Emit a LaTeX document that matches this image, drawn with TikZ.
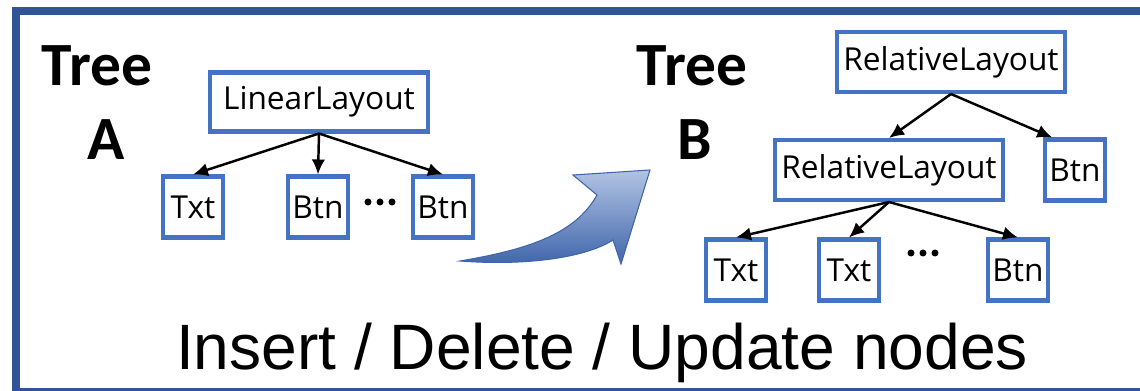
\documentclass[tikz,border=0pt]{standalone}
\usepackage{fontspec}
\setmainfont{Open Sans}
\newfontfamily\treefont{Carlito}
\newfontfamily\opfont{Liberation Sans}
\usepackage{tikz}
\usetikzlibrary{arrows.meta,positioning}
\definecolor{frameblue}{RGB}{47,85,151}
\definecolor{boxblue}{RGB}{68,114,196}
\definecolor{arrowlight}{RGB}{178,196,228}
\definecolor{arrowdark}{RGB}{62,100,170}

\begin{document}
\begin{tikzpicture}[x=0.02cm, y=-0.02cm, every node/.style={font=\fontsize{18}{20}\selectfont, inner sep=0pt}]
    \tikzset{
      layoutbox/.style={draw=boxblue, line width=2.3pt, minimum height=1.18cm},
      leafbox/.style={draw=boxblue, line width=2.3pt, minimum width=1.2cm, minimum height=1.22cm},
      treelabel/.style={font=\treefont\bfseries\fontsize{35}{40}\selectfont, anchor=base},
      link/.style={-{Latex[length=3mm,width=2.7mm]}, line width=1.4pt}
    }
    \useasboundingbox (0,0) rectangle (1140,391);
    \clip (0,0) rectangle (1140,391);
    % frame
    \draw[frameblue, line width=0.16cm] (16,11) rectangle (1146,392);
    % tree A
    \node[treelabel] (treeA) at (97,86) {Tree};
    \node[treelabel] (nameA) at (106,160) {A};
    \node[layoutbox, minimum width=4.36cm] (linear) at (319,102) {LinearLayout};
    \node[leafbox] (txtA) at (193,207) {Txt};
    \node[leafbox] (btnA) at (318,207) {Btn};
    \node[leafbox] (btnAA) at (443,207) {Btn};
    \foreach \x in {368,380,392} \fill (\x,202) circle[radius=0.07cm];
    \draw[link] (linear.south) -- (txtA.north);
    \draw[link] (linear.south) -- (btnA.north);
    \draw[link] (linear.south) -- (btnAA.north);
    % arrow between the trees
    \path[top color=arrowlight, bottom color=arrowdark, draw=arrowdark, line width=0.6pt]
      (460,261) .. controls (525,250) and (575,235) .. (597,195) -- (573,175) -- (650,170)
      -- (621,264) -- (613,240) .. controls (585,258) and (525,266) .. cycle;
    % tree B
    \node[treelabel] (treeB) at (692,86) {Tree};
    \node[treelabel] (nameB) at (695,160) {B};
    \node[layoutbox, minimum width=4.56cm, minimum height=1.2cm] (relTop) at (951,62) {RelativeLayout};
    \node[layoutbox, minimum width=4.56cm, minimum height=1.2cm] (relMid) at (889,170) {RelativeLayout};
    \node[leafbox] (btnB) at (1075,170) {Btn};
    \node[leafbox] (txtB) at (736,270) {Txt};
    \node[leafbox] (txtBB) at (849,270) {Txt};
    \node[leafbox] (btnBB) at (1018,270) {Btn};
    \foreach \x in {911,923,935} \fill (\x,253) circle[radius=0.07cm];
    \draw[link] (relTop.south) -- (relMid.north);
    \draw[link] (relTop.south) -- (btnB.125);
    \draw[link] (relMid.south) -- (txtB.north);
    \draw[link] (relMid.south) -- (txtBB.north);
    \draw[link] (relMid.south) -- (btnBB.north);
    % caption
    \node[font=\opfont\fontsize{36.5}{42}\selectfont, anchor=base] (ops) at (602,370) {Insert / Delete / Update nodes};
  \end{tikzpicture}
\end{document}
